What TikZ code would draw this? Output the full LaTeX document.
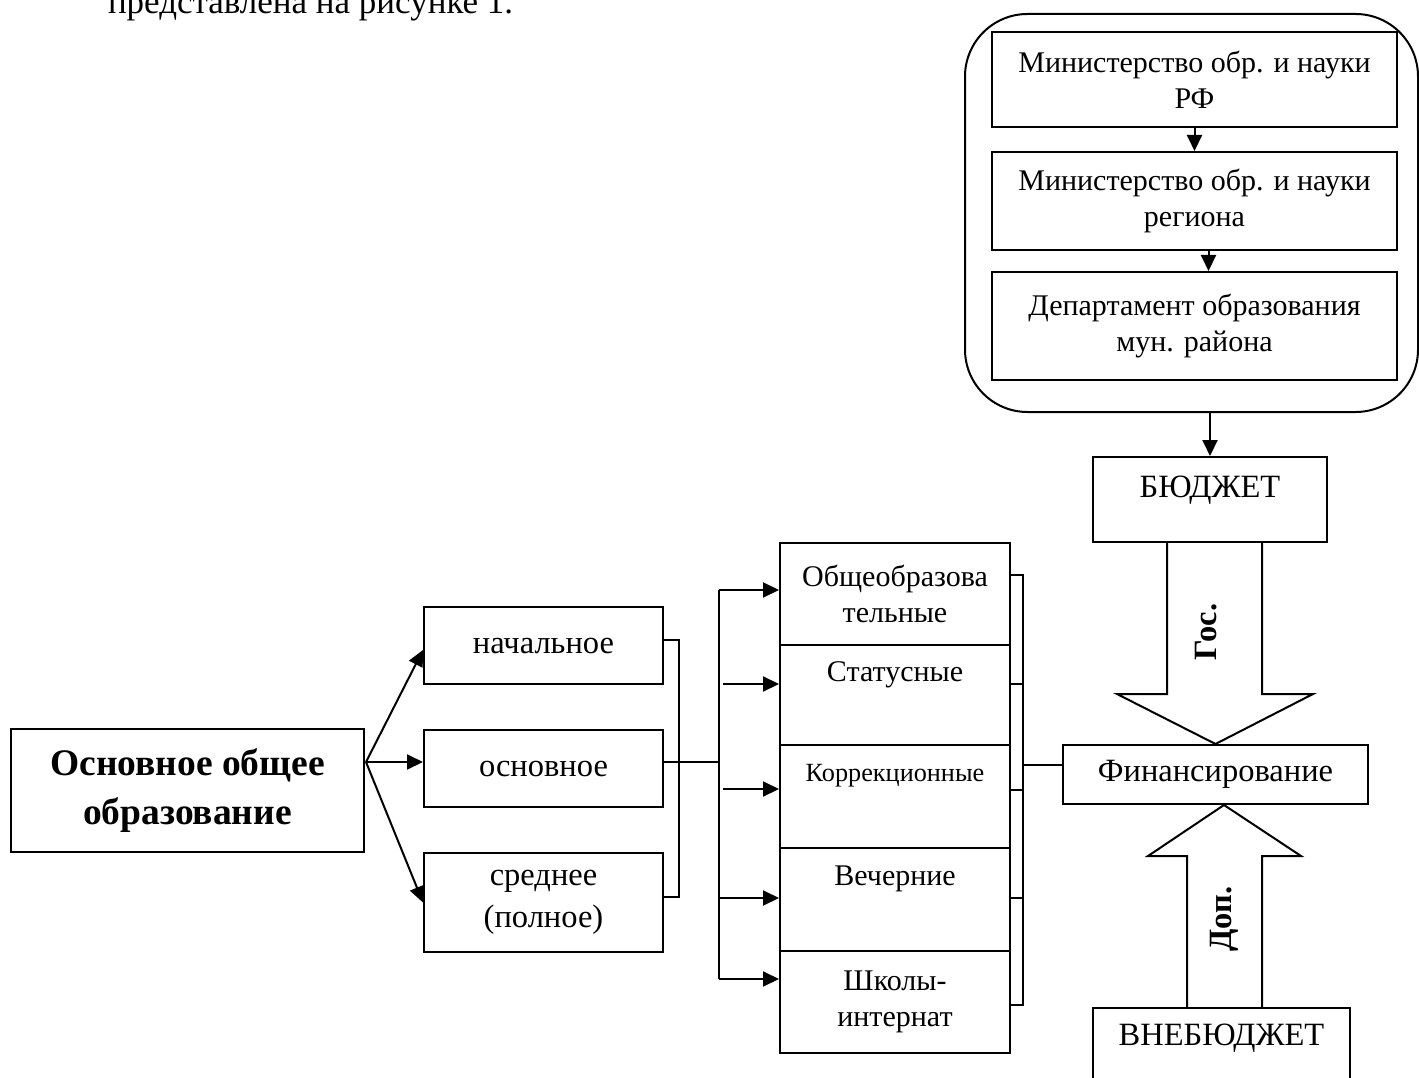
\documentclass[tikz,border=0pt]{standalone}
\usepackage{fontspec}
\setmainfont{Liberation Serif}
\usetikzlibrary{arrows.meta}

\begin{document}
\begin{tikzpicture}[x=0.4pt, y=-0.4pt, line width=0.8pt,
    box/.style={draw, inner sep=0pt, align=center, font=\fontsize{12}{14.4}\selectfont},
    bigbox/.style={box, font=\fontsize{13}{16.8}\selectfont},
    tag/.style={rotate=90, inner sep=0pt, font=\bfseries\fontsize{13}{15}\selectfont},
    arr/.style={-{Triangle[length=6.4pt, width=6pt]}}]
  \useasboundingbox (0,0) rectangle (1419,1078);
  \node[anchor=base west, inner sep=0pt, font=\fontsize{14}{16.8}\selectfont] (caption) at (107,14) {представлена на рисунке 1.};

  %%management
  \node[draw, rounded corners=25pt, inner sep=0pt, minimum width=181.2pt, minimum height=159.2pt] (mgmt) at (1191.5,213) {};
    \node[box, minimum width=162pt, minimum height=38pt] (minrf) at (1194.5,79.5) {Министерство обр. и науки\\РФ};
    \node[box, minimum width=162pt, minimum height=39.2pt] (minreg) at (1194.5,201) {Министерство обр. и науки\\региона};
    \node[box, minimum width=162pt, minimum height=43.2pt] (dept) at (1194.5,326) {Департамент образования\\мун. района};
  \draw[arr] (minrf) -- (minreg);
  \draw[arr] ([xshift=5.6pt]minreg.south) -- ([xshift=5.6pt]dept.north);

  %%money
  \node[bigbox, text depth=10pt, minimum width=93.6pt, minimum height=34pt] (budget) at (1210,499.5) {БЮДЖЕТ};
  \node[bigbox, minimum width=122pt, minimum height=23.6pt] (fin) at (1215.5,774.5) {Финансирование};
  \node[bigbox, text depth=9pt, minimum width=102.8pt, minimum height=30.4pt] (extra) at (1221.5,1046) {ВНЕБЮДЖЕТ};
  \draw[arr] (budget.north |- mgmt.south) -- (budget.north);
    %%big arrows
    \draw (1167,542) -- (1167,694) -- (1117,694) -- (fin.north) -- (1313,694) -- (1262,694) -- (1262,542);
    \node[tag] (gos) at (1206,632) {Гос.};
    \draw (1187,1008) -- (1187,856) -- (1148,856) -- ([xshift=3.4pt]fin.south) -- (1301,856) -- (1262,856) -- (1262,1008);
    \node[tag] (dop) at (1224,919) {Доп.};

  %%levels
  \node[box, font=\bfseries\fontsize{15}{19.6}\selectfont, minimum width=141.2pt, minimum height=49.2pt] (main) at (187.5,790.5) {Основное общее\\образование};
    \node[bigbox, minimum width=95.6pt, minimum height=30.8pt] (prim) at (543.5,645.5) {начальное};
    \node[bigbox, minimum width=95.6pt, minimum height=30.8pt] (basic) at (543.5,768.5) {основное};
    \node[bigbox, minimum width=95.6pt, minimum height=39.6pt] (sec) at (543.5,902.5) {среднее\\(полное)};
  \coordinate (fork) at (366,762);
  \draw[arr] (fork) -- ([yshift=-1.8pt]prim.west);
  \draw[arr] (fork) -- (fork -| basic.west);
  \draw[arr] (fork) -- (sec.west);
  \draw ([yshift=2.2pt]prim.east) -- ++(15,0) |- ([yshift=2.2pt]sec.east);

  %%types
    \node[box, minimum width=92pt, minimum height=40.8pt] (t1) at (895,594) {Общеобразова\\тельные};
    \node[box, minimum width=92pt, minimum height=40pt] (t2) at (895,695) {Статусные\\\strut};
    \node[box, font=\fontsize{10.5}{14.4}\selectfont, minimum width=92pt, minimum height=41.2pt] (t3) at (895,796.5) {Коррекционные\\\strut};
    \node[box, minimum width=92pt, minimum height=41.2pt] (t4) at (895,899.5) {Вечерние\\\strut};
    \node[box, minimum width=92pt, minimum height=40.8pt] (t5) at (895,1002) {Школы-\\интернат};

  \coordinate (spine) at (719,0);
  \draw (fork -| basic.east) -- (fork -| spine);
  \coordinate (in1) at ([yshift=1.6pt]t1.west);
  \coordinate (in2) at ([yshift=4.4pt]t2.west);
  \coordinate (in3) at ([yshift=3pt]t3.west);
  \coordinate (in4) at ([yshift=0.6pt]t4.west);
  \coordinate (in5) at ([yshift=9.2pt]t5.west);
  \draw (spine |- in1) -- (spine |- in5);
    \draw[arr] (spine |- in1) -- (in1);
    \draw[arr] ([xshift=-22.4pt]in2) -- (in2);
    \draw[arr] ([xshift=-22.4pt]in3) -- (in3);
    \draw[arr] (spine |- in4) -- (in4);
    \draw[arr] (spine |- in5) -- (in5);

  \coordinate (rail) at (1023,0);
  \coordinate (out1) at ([yshift=7.6pt]t1.east);
  \coordinate (out2) at ([yshift=4.4pt]t2.east);
  \coordinate (out3) at ([yshift=2.6pt]t3.east);
  \coordinate (out4) at ([yshift=0.6pt]t4.east);
  \coordinate (out5) at ([yshift=-1.2pt]t5.east);
  \draw (out1) -| (rail |- out5) -- (out5);
    \draw (out2) -- (rail |- out2);
    \draw (out3) -- (rail |- out3);
    \draw (out4) -- (rail |- out4);
  \coordinate (finin) at ([yshift=3.8pt]fin.west);
  \draw (finin) -- (rail |- finin);
\end{tikzpicture}
\end{document}
